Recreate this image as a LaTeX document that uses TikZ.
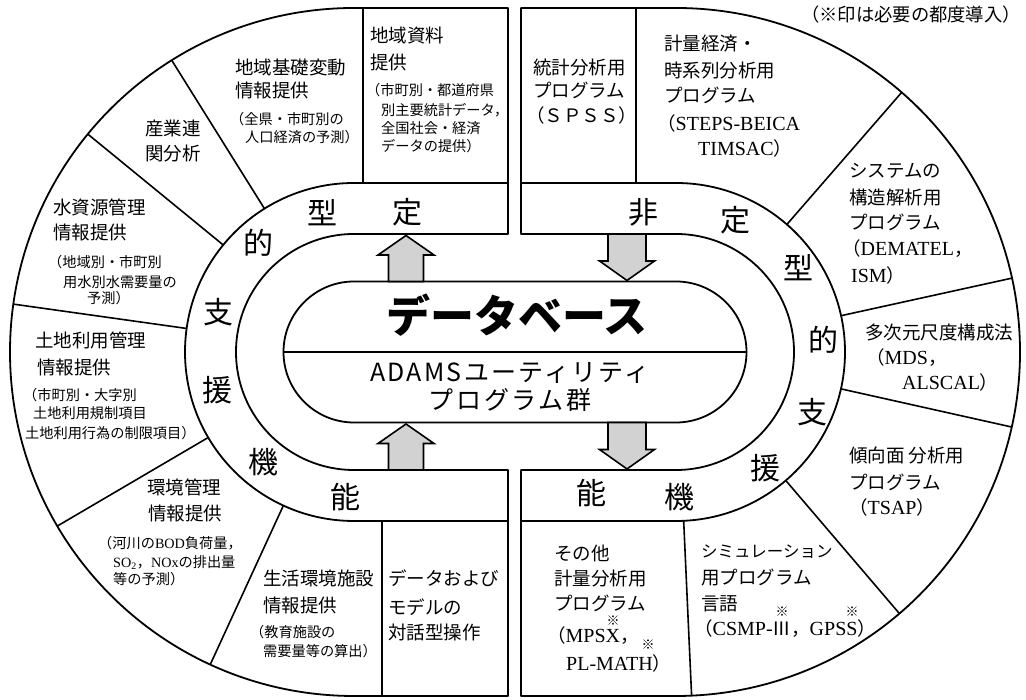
\documentclass[tikz,border=0pt]{standalone}
\usepackage{fontspec}
\setmainfont{Liberation Serif}
\newfontfamily\cjk{Noto Sans CJK JP}
\newcommand\lat[1]{{\rmfamily\fontsize{20}{22}\selectfont #1}}
\newcommand\slat[1]{{\rmfamily #1}}
\usetikzlibrary{calc}
\tikzset{
  frame/.style={line width=1.8pt, line join=round},
  sep/.style={line width=1.6pt},
  blockarrow/.style={draw, line width=1.6pt, fill=gray!35, line join=miter},
  m/.style={inner sep=0pt, anchor=west, font=\cjk\fontsize{18.5}{20}\selectfont, text height=16.3pt, text depth=2.2pt},
  s/.style={inner sep=0pt, anchor=west, font=\cjk\fontsize{14.2}{16}\selectfont, text height=12.5pt, text depth=1.7pt},
  band/.style={inner sep=0pt, font=\cjk\fontsize{30}{32}\selectfont, text height=26.4pt, text depth=3.6pt},
  star/.style={inner sep=0pt, font=\cjk\bfseries\fontsize{13}{13}\selectfont},
  uparr/.pic={\draw[blockarrow] (-17.5,0) -- (-17.5,26.5) -- (-28,26.5) -- (0,46) -- (28,26.5) -- (17.5,26.5) -- (17.5,0) -- cycle;},
  downarr/.pic={\draw[blockarrow] (-19,0) -- (-19,-27) -- (-27.5,-27) -- (0,-46.5) -- (27.5,-27) -- (19,-27) -- (19,0) -- cycle;},
}
\begin{document}
\begin{tikzpicture}[x=1pt,y=1pt]
\useasboundingbox (0,0) rectangle (1026,700);
\coordinate (L) at (354,348);
\coordinate (R) at (676,348);
% left half
\draw[frame] (508,692) -- (354,692) arc[start angle=90,end angle=270,radius=344] -- (508,4) -- (508,230) -- (354,230) arc[start angle=270,end angle=90,radius=118] -- (508,466) -- cycle;
\draw[frame] (508,517) -- (354,517) arc[start angle=90,end angle=270,radius=169] -- (508,179);
% right half
\draw[frame] (521,692) -- (676,692) arc[start angle=90,end angle=-90,radius=344] -- (521,4) -- (521,230) -- (676,230) arc[start angle=-90,end angle=90,radius=118] -- (521,466) -- cycle;
\draw[frame] (521,517) -- (676,517) arc[start angle=90,end angle=-90,radius=169] -- (521,179);
% capsule
\draw[frame, rounded corners=70.5pt] (283.5,277.5) rectangle (746.5,418.5);
\draw[frame] (283.5,348) -- (746.5,348);
% dividers
\draw[sep] (363,517) -- (363,692);
\draw[sep] (382,179) -- (382,4);
\draw[sep] (636,517) -- (636,692);
\foreach \a in {122,140.7,172,210.4,245.3}
  \draw[sep] ($(L)+(\a:169)$) -- ($(L)+(\a:344)$);
\foreach \a in {49,12.4,-12.6,-49.5,-87.4}
  \draw[sep] ($(R)+(\a:169)$) -- ($(R)+(\a:344)$);
% arrows
\pic (ua1) at (406,418.5) {uparr};
\pic (ua2) at (406,230) {uparr};
\pic (da1) at (627,466) {downarr};
\pic (da2) at (627,277.5) {downarr};
% capsule text
\node[inner sep=0pt, font=\cjk\bfseries\fontsize{44}{46}\selectfont] (db) at (517,385) {データベース};
\node[inner sep=0pt, font=\cjk\fontsize{25}{27}\selectfont\addfontfeature{LetterSpace=9}] (ad1) at (510,327) {ADAMSユーティリティ};
\node[inner sep=0pt, font=\cjk\fontsize{25}{27}\selectfont\addfontfeature{LetterSpace=11}] (ad2) at (510,300) {プログラム群};
% band labels
\node[band] (bl1) at (407,488) {定};
\node[band] (bl2) at (322,487) {型};
\node[band] (bl3) at (258,457) {的};
\node[band] (bl4) at (218,388) {支};
\node[band] (bl5) at (217,310) {援};
\node[band] (bl6) at (263,238) {機};
\node[band] (bl7) at (345,203) {能};
\node[band] (br1) at (643,488) {非};
\node[band] (br2) at (735,480) {定};
\node[band] (br3) at (798,432) {型};
\node[band] (br4) at (823,360) {的};
\node[band] (br5) at (812,288) {支};
\node[band] (br6) at (765,232) {援};
\node[band] (br7) at (679,203) {機};
\node[band] (br8) at (591,207) {能};
% left sectors
\node[m] (a1) at (370,665) {地域資料};
\node[m] (a2) at (370,638) {提供};
\node[s] (a3) at (366,610) {（市町別・都道府県};
\node[s] (a4) at (381,590) {別主要統計データ，};
\node[s] (a5) at (381,572) {全国社会・経済};
\node[s] (a6) at (381,554) {データの提供）};
\node[m] (b1) at (235,633) {地域基礎変動};
\node[m] (b2) at (235,610) {情報提供};
\node[s] (b3) at (230,581) {（全県・市町別の};
\node[s] (b4) at (245,563) {人口経済の予測）};
\node[m] (c1) at (145,572) {産業連};
\node[m] (c2) at (145,547) {関分析};
\node[m] (d1) at (53,493) {水資源管理};
\node[m] (d2) at (53,468) {情報提供};
\node[s] (d3) at (48,438) {（地域別・市町別};
\node[s] (d4) at (63,418) {用水別水需要量の};
\node[s] (d5) at (87,402) {予測）};
\node[m] (e1) at (35,360) {土地利用管理};
\node[m] (e2) at (37,333) {情報提供};
\node[s] (e3) at (23,305) {（市町別・大字別};
\node[s] (e4) at (33,287) {土地利用規制項目};
\node[s] (e5) at (25,267) {土地利用行為の制限項目）};
\node[m] (f1) at (147,213) {環境管理};
\node[m] (f2) at (148,187) {情報提供};
\node[s] (f3) at (98,157) {（河川の\slat{BOD}負荷量，};
\node[s] (f4) at (113,138) {\slat{SO\textsubscript{2}}，\slat{NOx}の排出量};
\node[s] (f5) at (113,121) {等の予測）};
\node[m] (g1) at (263,122) {生活環境施設};
\node[m] (g2) at (263,95) {情報提供};
\node[s] (g3) at (250,68) {（教育施設の};
\node[s] (g4) at (263,49) {需要量等の算出）};
\node[m] (h1) at (388,122) {データおよび};
\node[m] (h2) at (388,93) {モデルの};
\node[m] (h3) at (388,68) {対話型操作};
% right sectors
\node[m] (i1) at (533,633) {統計分析用};
\node[m] (i2) at (533,610) {プログラム};
\node[m] (i3) at (526,585) {（ＳＰＳＳ）};
\node[m] (j1) at (664,657) {計量経済・};
\node[m] (j2) at (664,630) {時系列分析用};
\node[m] (j3) at (664,605) {プログラム};
\node[m] (j4) at (657,577) {（\lat{STEPS-BEICA}};
\node[m] (j5) at (698,552) {\lat{TIMSAC}）};
\node[m] (k1) at (849,530) {システムの};
\node[m] (k2) at (849,503) {構造解析用};
\node[m] (k3) at (849,478) {プログラム};
\node[m] (k4) at (842,452) {（\lat{DEMATEL}，};
\node[m] (k5) at (851,425) {\lat{ISM}）};
\node[m] (l1) at (865,368) {多次元尺度構成法};
\node[m] (l2) at (866,343) {（\lat{MDS}，};
\node[m] (l3) at (902,318) {\lat{ALSCAL}）};
\node[m] (n1) at (849,245) {傾向面 分析用};
\node[m] (n2) at (849,218) {プログラム};
\node[m] (n3) at (849,193) {（\lat{TSAP}）};
\node[m, font=\cjk\fontsize{16.5}{18}\selectfont] (o1) at (701,150) {シミュレーション};
\node[m] (o2) at (701,123) {用プログラム};
\node[m] (o3) at (701,97) {言語};
\node[m] (o4) at (694,72) {（\lat{CSMP-}Ⅲ，\lat{GPSS}）};
\node[star] (o4s1) at (782,88) {※};
\node[star] (o4s2) at (852,88) {※};
\node[m] (p1) at (554,147) {その他};
\node[m] (p2) at (554,122) {計量分析用};
\node[m] (p3) at (554,97) {プログラム};
\node[m] (p4) at (547,65) {（\lat{MPSX}，};
\node[star] (p4s) at (613,79) {※};
\node[m] (p5) at (566,37) {\lat{PL-MATH}）};
\node[star] (p5s) at (648,55) {※};
% note
\node[inner sep=0pt, anchor=west, font=\cjk\fontsize{18.3}{20}\selectfont, text height=16.1pt, text depth=2.2pt] (note) at (801,685) {（※印は必要の都度導入）};
\end{tikzpicture}
\end{document}
